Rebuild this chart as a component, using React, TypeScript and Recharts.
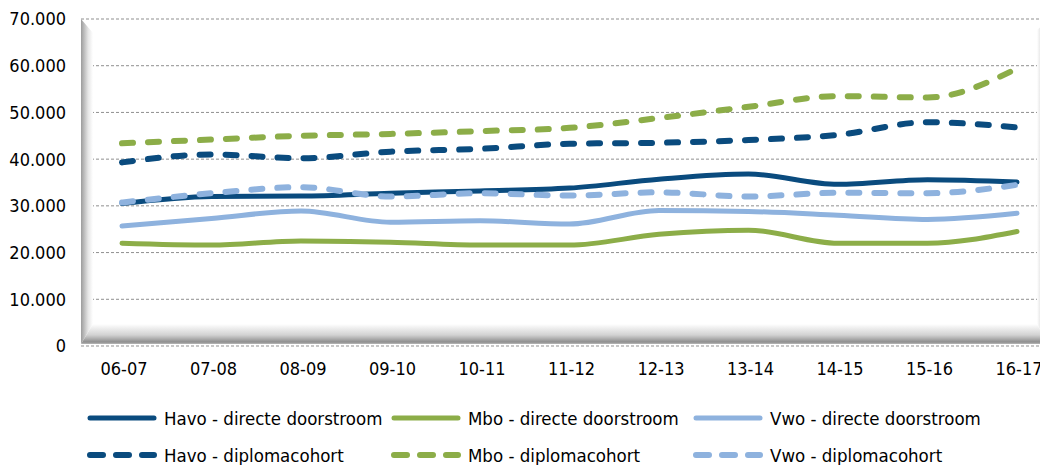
import { LineChart, Line, XAxis, YAxis, CartesianGrid, Legend, Customized } from "recharts";

const categories = ["06-07", "07-08", "08-09", "09-10", "10-11", "11-12", "12-13", "13-14", "14-15", "15-16", "16-17"];
const havoDirect = [30500, 32000, 32100, 32700, 33200, 33800, 35700, 36800, 34600, 35600, 35100];
const mboDirect = [22000, 21600, 22500, 22200, 21600, 21600, 23900, 24800, 22000, 22000, 24500];
const vwoDirect = [25700, 27300, 28900, 26500, 26800, 26100, 29000, 28800, 28000, 27100, 28400];
const havoCohort = [39300, 41000, 40200, 41600, 42200, 43300, 43500, 44100, 45200, 47900, 46800];
const mboCohort = [43400, 44200, 45000, 45400, 46000, 46700, 48800, 51200, 53500, 53200, 59400];
const vwoCohort = [30700, 32700, 34000, 32000, 32700, 32200, 32900, 32000, 32800, 32700, 34500];
const yTicks = [0, 10000, 20000, 30000, 40000, 50000, 60000, 70000];

const HAVO = "#0a4b7e";
const MBO = "#8cad48";
const VWO = "#8eb2de";

const data = categories.map((cat, i) => ({
  cat,
  havoDirect: havoDirect[i],
  mboDirect: mboDirect[i],
  vwoDirect: vwoDirect[i],
  havoCohort: havoCohort[i],
  mboCohort: mboCohort[i],
  vwoCohort: vwoCohort[i],
}));

const series = [
  { key: "havoDirect", name: "Havo - directe doorstroom", color: HAVO, dashed: false },
  { key: "mboDirect", name: "Mbo - directe doorstroom", color: MBO, dashed: false },
  { key: "vwoDirect", name: "Vwo - directe doorstroom", color: VWO, dashed: false },
  { key: "havoCohort", name: "Havo - diplomacohort", color: HAVO, dashed: true },
  { key: "mboCohort", name: "Mbo - diplomacohort", color: MBO, dashed: true },
  { key: "vwoCohort", name: "Vwo - diplomacohort", color: VWO, dashed: true },
];

const W = 1040;
const H = 457;
// plot area (svg coords), set by the margins / axis sizes below
const PL = 73, PT = 11, PR = 1040, PB = 338;

const fmt = (v: number) => String(v).replace(/\B(?=(\d{3})+(?!\d))/g, ".");

// Excel-style 3D walls behind the plot
const Walls = () => (
  <g>
    <defs>
      <linearGradient id="leftWall" x1="0" y1="0" x2="1" y2="0">
        <stop offset="0%" stopColor="#9c9c9c" />
        <stop offset="60%" stopColor="#e6e6e6" />
        <stop offset="100%" stopColor="#ffffff" />
      </linearGradient>
      <linearGradient id="floor" x1="0" y1="0" x2="0" y2="1">
        <stop offset="0%" stopColor="#ffffff" />
        <stop offset="55%" stopColor="#d2d2d2" />
        <stop offset="90%" stopColor="#8e8e8e" />
        <stop offset="100%" stopColor="#b8b8b8" />
      </linearGradient>
      <linearGradient id="rightWall" x1="0" y1="0" x2="1" y2="0">
        <stop offset="0%" stopColor="#ffffff" />
        <stop offset="100%" stopColor="#b0b0b0" />
      </linearGradient>
    </defs>
    <polygon points={`${PL},${PT} ${PL + 12},${PT + 14} ${PL + 12},${PB - 22} ${PL},${PB - 2}`} fill="url(#leftWall)" />
    <polygon points={`${PL},${PB - 2} ${PL + 12},${PB - 22} ${PR - 11},${PB - 22} ${PR},${PB - 2}`} fill="url(#floor)" />
    <polygon points={`${PR - 11},${PT + 11} ${PR},${PT + 2} ${PR},${PB - 2} ${PR - 11},${PB - 22}`} fill="url(#rightWall)" />
  </g>
);

const legendCols = [78, 382, 684];

const LegendIcon = ({ color, dashed }: { color: string; dashed: boolean }) => (
  <svg width={72} height={10} style={{ display: "block", marginRight: 6 }}>
    <line
      x1={4}
      y1={5}
      x2={68}
      y2={5}
      stroke={color}
      strokeWidth={dashed ? 6 : 5}
      strokeLinecap="round"
      strokeDasharray={dashed ? "13 13" : undefined}
    />
  </svg>
);

const renderLegend = () => (
  <div style={{ position: "relative", width: W, height: 79 }}>
    {series.map((s, i) => {
      const col = i % 3;
      const row = Math.floor(i / 3);
      return (
        <div
          key={s.key}
          style={{
            position: "absolute",
            left: legendCols[col],
            top: 21 + row * 37,
            height: 22,
            display: "flex",
            alignItems: "center",
            fontSize: 18.5,
            color: "#000",
            whiteSpace: "nowrap",
          }}
        >
          <LegendIcon color={s.color} dashed={s.dashed} />
          <span>{s.name}</span>
        </div>
      );
    })}
  </div>
);

export default function App() {
  return (
    <div style={{ width: W, height: H, fontFamily: "'DejaVu Sans Condensed', 'DejaVu Sans', sans-serif" }}>
      <LineChart width={W} height={H} data={data} margin={{ top: PT, right: 0, bottom: 0, left: 0 }}>
        <Customized component={Walls} />
        <CartesianGrid vertical={false} stroke="#8f8f8f" strokeDasharray="3 2" />
        <XAxis
          dataKey="cat"
          axisLine={false}
          tickLine={false}
          tickSize={0}
          tickMargin={16}
          height={40}
          padding={{ left: 41, right: 31 }}
          tick={{ fontSize: 18, fill: "#000", dx: 2 }}
          interval={0}
        />
        <YAxis
          domain={[0, 70000]}
          ticks={yTicks}
          axisLine={false}
          tickLine={false}
          tickSize={0}
          tickMargin={15}
          width={PL}
          tick={{ fontSize: 18, fill: "#000" }}
          tickFormatter={fmt}
        />
        <Legend
          verticalAlign="bottom"
          content={renderLegend}
          wrapperStyle={{ left: 0, bottom: 0, width: W, height: 79 }}
        />
        {series.map((s) => (
          <Line
            key={s.key}
            type="monotone"
            dataKey={s.key}
            name={s.name}
            stroke={s.color}
            strokeWidth={s.dashed ? 6 : 5}
            strokeDasharray={s.dashed ? "11 15" : undefined}
            strokeLinecap="round"
            dot={false}
            activeDot={false}
            isAnimationActive={false}
          />
        ))}
      </LineChart>
    </div>
  );
}
